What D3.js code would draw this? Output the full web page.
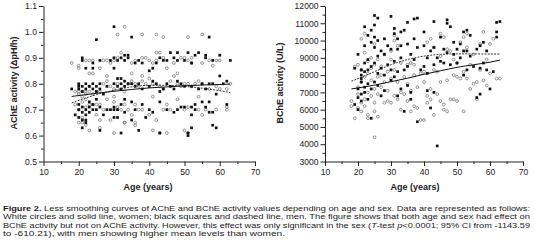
<!DOCTYPE html>
<html>
<head>
<meta charset="utf-8">
<script src="https://cdn.jsdelivr.net/npm/d3@7"></script>
<style>
body { margin: 0; background: #fff; }
svg { display: block; font-family: Arial, "Liberation Sans", sans-serif; }
</style>
</head>
<body>
<script>
// ---- AChE (left panel) ----
var acheMenAge = [30,25,35,57,
  21,21,22,24,24,26,29,30,31,32,33,33,34,34,36,37,38,40,41,42,43,44,45,46,47,48,48,50,51,52,53,54,56,56,58,60,63,60,30,
  18,20,20,20,21,21,22,22,23,24,24,25,25,26,26,27,28,30,31,31,32,32,32,33,33,34,35,36,37,38,40,41,42,43,44,45,46,47,48,49,50,52,54,55,56,57,58,59,61,62,
  19,20,20,20,21,21,21,22,22,22,23,23,23,24,24,25,25,26,27,28,29,30,30,31,31,32,33,33,35,36,38,39,40,41,43,45,47,48,49,50,52,52,53,53,55,56,57,57,58,58,59,62,
  21,22,26,32,35,37,43,51,51,52,30];
var acheMen = [1.02,0.97,0.98,0.98,
  0.90,0.89,0.86,0.88,0.86,0.89,0.89,0.90,0.89,0.90,0.91,0.89,0.91,0.90,0.88,0.89,0.88,0.85,0.86,0.88,0.90,0.89,0.89,0.92,0.90,0.92,0.89,0.89,0.92,0.88,0.91,0.92,0.91,0.90,0.89,0.91,0.89,0.83,0.86,
  0.78,0.79,0.80,0.78,0.79,0.77,0.80,0.78,0.79,0.80,0.78,0.79,0.77,0.78,0.80,0.76,0.79,0.80,0.82,0.79,0.82,0.80,0.78,0.81,0.79,0.80,0.80,0.79,0.80,0.78,0.79,0.81,0.80,0.77,0.78,0.80,0.79,0.78,0.81,0.80,0.79,0.79,0.78,0.80,0.78,0.80,0.80,0.76,0.80,0.81,
  0.68,0.70,0.72,0.67,0.71,0.69,0.66,0.70,0.68,0.66,0.73,0.71,0.69,0.70,0.72,0.74,0.70,0.71,0.68,0.70,0.70,0.70,0.71,0.70,0.67,0.72,0.74,0.69,0.73,0.70,0.72,0.67,0.70,0.69,0.73,0.70,0.69,0.70,0.71,0.71,0.68,0.71,0.70,0.72,0.73,0.71,0.73,0.69,0.64,0.69,0.63,0.72,
  0.63,0.65,0.62,0.61,0.66,0.62,0.61,0.60,0.61,0.63,0.67];

var acheWomenAge = [33,31,38,42,44,51,55,
  18,20,20,22,23,24,23,24,26,27,28,29,30,31,32,35,35,36,38,39,40,41,42,42,43,44,45,47,48,49,50,51,52,52,55,57,58,59,60,28,38,
  19,20,20,21,21,22,22,23,23,24,25,26,27,28,29,30,31,33,34,35,36,37,38,39,40,41,43,44,46,47,48,49,50,51,52,53,54,55,57,59,60,63,62,
  19,20,20,21,21,22,22,23,24,25,25,26,26,27,28,29,30,30,31,32,33,34,35,36,36,37,38,40,41,42,44,46,48,50,51,54,54,55,56,59,62,62,45,33,
  21,22,23,26,30,33,36,41,43,45,50,51];
var acheWomen = [1.02,0.99,0.99,0.99,0.98,0.98,0.99,
  0.88,0.87,0.86,0.89,0.89,0.89,0.84,0.84,0.86,0.89,0.89,0.88,0.89,0.90,0.92,0.84,0.88,0.89,0.90,0.90,0.89,0.88,0.92,0.89,0.92,0.90,0.86,0.88,0.84,0.90,0.90,0.89,0.88,0.90,0.88,0.89,0.87,0.89,0.89,0.83,0.83,
  0.77,0.77,0.76,0.77,0.75,0.77,0.76,0.77,0.79,0.76,0.77,0.77,0.80,0.81,0.79,0.78,0.80,0.77,0.80,0.81,0.80,0.79,0.81,0.80,0.82,0.80,0.79,0.78,0.81,0.83,0.80,0.79,0.80,0.80,0.79,0.80,0.81,0.80,0.78,0.79,0.78,0.80,0.78,
  0.72,0.70,0.65,0.67,0.73,0.74,0.71,0.72,0.72,0.72,0.68,0.72,0.66,0.70,0.74,0.66,0.75,0.73,0.71,0.70,0.65,0.70,0.68,0.64,0.72,0.70,0.70,0.68,0.75,0.66,0.70,0.70,0.74,0.70,0.71,0.75,0.70,0.68,0.70,0.70,0.70,0.71,0.72,0.72,
  0.65,0.64,0.62,0.63,0.61,0.65,0.65,0.62,0.61,0.61,0.62,0.61];

// smoothing curves
var acheCurveAge = [18,22,25,30,35,40,45,50,55,60,63];
var acheCurveWomen = [0.751,0.758,0.763,0.771,0.778,0.784,0.788,0.792,0.795,0.797,0.799];
var acheCurveMen = [0.726,0.745,0.758,0.775,0.788,0.794,0.794,0.790,0.783,0.773,0.766];

// ---- BChE (right panel) ----
var bcheMenAge = [19,19,20,20,20,20,21,21,21,21, 21,21,22,22,22,22,22,22,23,23, 23,23,23,24,24,24,24,24,25,25,
  25,25,25,25,26,26,26,26,26,27, 27,27,28,28,28,28,29,29,30,30, 30,30,31,31,31,31,32,32,32,32,
  33,33,33,33,34,34,34,35,35,35, 35,36,36,36,37,37,37,38,38,38, 39,40,40,40,41,41,41,42,42,43,
  43,43,43,44,44,45,45,46,46,47, 47,47,48,48,49,49,50,50,51,51, 52,52,52,53,53,53,54,54,55,56,
  56,57,57,57,58,58,59,59,60,61, 62,62,62,63];
var bcheMen = [6300,8400,9200,7200,6700,6000,8300,8000,7800,7600, 6900,6500,9700,8700,8200,7300,7000,10800,10300,8900,
  8300,7500,6600,10600,9900,8500,5500,7200,11450,10900, 10200,9600,8700,7600,11300,10000,9100,8100,7400,9400,
  8400,6800,10100,9200,8000,7100,9700,8600,11400,9500, 8300,7700,10700,10400,8800,7900,10100,9500,8200,6800,
  10500,9700,9000,7200,10600,8300,5900,11050,9800,8500, 7400,9200,7000,6600,11250,10100,8900,11300,9600,5300,
  8300,10500,9700,8500,9000,8100,7100,9400,6100,11100, 9600,8600,7000,3900,9000,10200,8800,9500,8700,11200,
  11000,9300,10800,8600,9900,9200,9500,8700,9800,9000, 10500,9400,8000,10600,9400,8300,10300,9100,8500,9500,
  6700,9700,8400,6900,9900,8700,9400,8300,7200,8200, 11050,10500,10200,11100];

var bcheWomenAge = [18,18,19,19,20,20,20,20,21,21, 21,21,21,22,22,22,22,22,23,23, 23,23,23,24,24,24,24,25,25,25,
  25,25,25,26,26,26,26,27,27,27, 28,28,28,29,29,29,30,30,30,30, 31,31,31,31,32,32,32,33,33,33,
  34,34,35,35,35,36,36,36,37,37, 37,38,38,39,39,40,40,40,41,41, 41,42,42,42,43,43,43,44,44,45,
  45,45,45,46,46,46,47,47,47,48, 48,49,49,49,50,50,50,51,51,52, 52,52,53,53,53,54,54,55,55,56,
  56,57,57,58,58,59,59,60,60,61, 62,63];
var bcheWomen = [6500,6200,5500,8500,6100,6900,7300,8600,5900,6400, 7600,8300,10100,10400,9300,7900,6600,6200,5700,5500,
  7000,8800,8100,9000,8400,7700,6800,4400,5900,6400, 7200,9800,8600,5600,6900,7900,8900,7300,8000,8500,
  6400,7600,9200,6500,7100,8200,6400,9400,8900,7800, 10300,10000,8300,6800,9700,7600,6600,8700,7000,6000,
  7900,6900,8600,7500,6500,8700,7100,5900,8600,8000, 6200,7300,6100,8100,5400,8200,5400,7600,9900,6800,
  6400,10100,7200,6600,9600,8300,5700,6900,8200,10400, 9100,7600,6500,10200,6300,6000,9500,7700,5900,9400,
  6600,8900,8000,6600,8700,7900,6500,9900,7800,10200, 8200,5900,10400,9600,7800,8600,7200,9200,7500,7600,
  6600,9800,8300,10500,7700,8900,7400,9800,8100,10100, 7800,7800];

var bcheCurveAge = [18,22,25,30,35,40,45,50,55,60,63];
var bcheCurveWomen = [7200,7320,7420,7620,7820,8050,8250,8450,8600,8750,8870];
var bcheCurveMen = [7650,7950,8200,8600,8900,9100,9200,9230,9230,9220,9220];

var captionLines = [
  "Figure 2. Less smoothing curves of AChE and BChE activity values depending on age and sex. Data are represented as follows:",
  "White circles and solid line, women; black squares and dashed line, men. The figure shows that both age and sex had effect on",
  "BChE activity but not on AChE activity. However, this effect was only significant in the sex (T-test p<0.0001; 95% CI from -1143.59",
  "to -610.21), with men showing higher mean levels than women."
];

var svg = d3.select("body").append("svg")
  .attr("width", 535)
  .attr("height", 245);

function zip(a, b) {
  return a.map(function(d, i) { return {x: d, y: b[i]}; });
}

function drawPanel(p) {
  var x = d3.scaleLinear().domain([10, 70]).range([p.x0, p.x1]);
  var y = d3.scaleLinear().domain(p.yDomain).range([161.5, 6]);

  // minor ticks
  svg.append("g")
    .attr("transform", "translate(0,161.5)")
    .call(d3.axisBottom(x).tickValues(d3.range(15, 70, 10)).tickSize(2.5).tickFormat(""))
    .call(function(g) { g.select(".domain").remove(); });
  svg.append("g")
    .attr("transform", "translate(" + p.x0 + ",0)")
    .call(d3.axisLeft(y).tickValues(p.yMinor).tickSize(2.5).tickFormat(""))
    .call(function(g) { g.select(".domain").remove(); });

  // major axes
  svg.append("g")
    .attr("transform", "translate(0,161.5)")
    .call(d3.axisBottom(x).tickValues(d3.range(10, 71, 10)).tickSize(4.5).tickSizeOuter(0).tickPadding(3));
  svg.append("g")
    .attr("transform", "translate(" + p.x0 + ",0)")
    .call(d3.axisLeft(y).tickValues(p.yMajor).tickSize(4.5).tickSizeOuter(0).tickPadding(2).tickFormat(p.fmt));
  svg.selectAll(".tick text").attr("font-size", 8.6).attr("fill", "#222").attr("font-family", "Arial, 'Liberation Sans', sans-serif");
  svg.selectAll(".domain, .tick line").attr("stroke", "#222");

  // women: open circles
  svg.append("g").selectAll("circle")
    .data(zip(p.wAge, p.wVal))
    .join("circle")
    .attr("cx", function(d) { return x(d.x); })
    .attr("cy", function(d) { return y(d.y); })
    .attr("r", 1.4)
    .attr("fill", "none")
    .attr("stroke", "#6a6a6a")
    .attr("stroke-width", 0.7);

  // men: black squares
  svg.append("g").selectAll("rect")
    .data(zip(p.mAge, p.mVal))
    .join("rect")
    .attr("x", function(d) { return x(d.x) - 1.35; })
    .attr("y", function(d) { return y(d.y) - 1.35; })
    .attr("width", 2.7)
    .attr("height", 2.7)
    .attr("fill", "#111");

  var line = d3.line()
    .x(function(d) { return x(d.x); })
    .y(function(d) { return y(d.y); })
    .curve(d3.curveMonotoneX);

  svg.append("path")
    .datum(zip(p.cAge, p.cWomen))
    .attr("fill", "none")
    .attr("stroke", "#111")
    .attr("stroke-width", 1)
    .attr("d", line);
  svg.append("path")
    .datum(zip(p.cAge, p.cMen))
    .attr("fill", "none")
    .attr("stroke", "#222")
    .attr("stroke-width", 0.9)
    .attr("stroke-dasharray", "2,1.2")
    .attr("d", line);

  // axis titles
  svg.append("text")
    .attr("transform", "translate(" + p.titleX + ",83) rotate(-90)")
    .attr("text-anchor", "middle")
    .attr("font-size", 9)
    .attr("font-weight", "bold")
    .attr("fill", "#222")
    .text(p.yTitle);
  svg.append("text")
    .attr("x", p.ageX)
    .attr("y", 189.5)
    .attr("text-anchor", "middle")
    .attr("font-size", 9)
    .attr("font-weight", "bold")
    .attr("fill", "#222")
    .text("Age (years)");
}

drawPanel({
  x0: 43.5, x1: 255,
  yDomain: [0.5, 1.1],
  yMajor: d3.range(0.5, 1.101, 0.1),
  yMinor: d3.range(0.55, 1.1, 0.1),
  fmt: d3.format(".1f"),
  wAge: acheWomenAge, wVal: acheWomen,
  mAge: acheMenAge, mVal: acheMen,
  cAge: acheCurveAge, cWomen: acheCurveWomen, cMen: acheCurveMen,
  yTitle: "AChE activity (\u0394pH/h)",
  titleX: 17,
  ageX: 148
});

drawPanel({
  x0: 325, x1: 523,
  yDomain: [3000, 12000],
  yMajor: d3.range(3000, 12001, 1000),
  yMinor: d3.range(3500, 12000, 1000),
  fmt: d3.format("d"),
  wAge: bcheWomenAge, wVal: bcheWomen,
  mAge: bcheMenAge, mVal: bcheMen,
  cAge: bcheCurveAge, cWomen: bcheCurveWomen, cMen: bcheCurveMen,
  yTitle: "BChE activity (U/L)",
  titleX: 283,
  ageX: 415
});

// caption, stretched to the widths seen in the picture
var capWidths = [527, 527, 527, 282];
var cap = svg.append("g").attr("font-size", 7.6).attr("fill", "#222");
captionLines.forEach(function(t, i) {
  var txt = cap.append("text")
    .attr("x", 3)
    .attr("y", 211 + i * 8.4)
    .attr("textLength", capWidths[i])
    .attr("lengthAdjust", "spacingAndGlyphs");
  if (i === 0) {
    txt.append("tspan").attr("font-weight", "bold").text("Figure 2.");
    txt.append("tspan").text(t.slice(9));
  } else if (i === 2) {
    var a = t.indexOf("(T-test p");
    txt.append("tspan").text(t.slice(0, a + 1));
    txt.append("tspan").attr("font-style", "italic").text("T");
    txt.append("tspan").text("-test ");
    txt.append("tspan").attr("font-style", "italic").text("p");
    txt.append("tspan").text(t.slice(a + 9));
  } else {
    txt.text(t);
  }
});
</script>
</body>
</html>
